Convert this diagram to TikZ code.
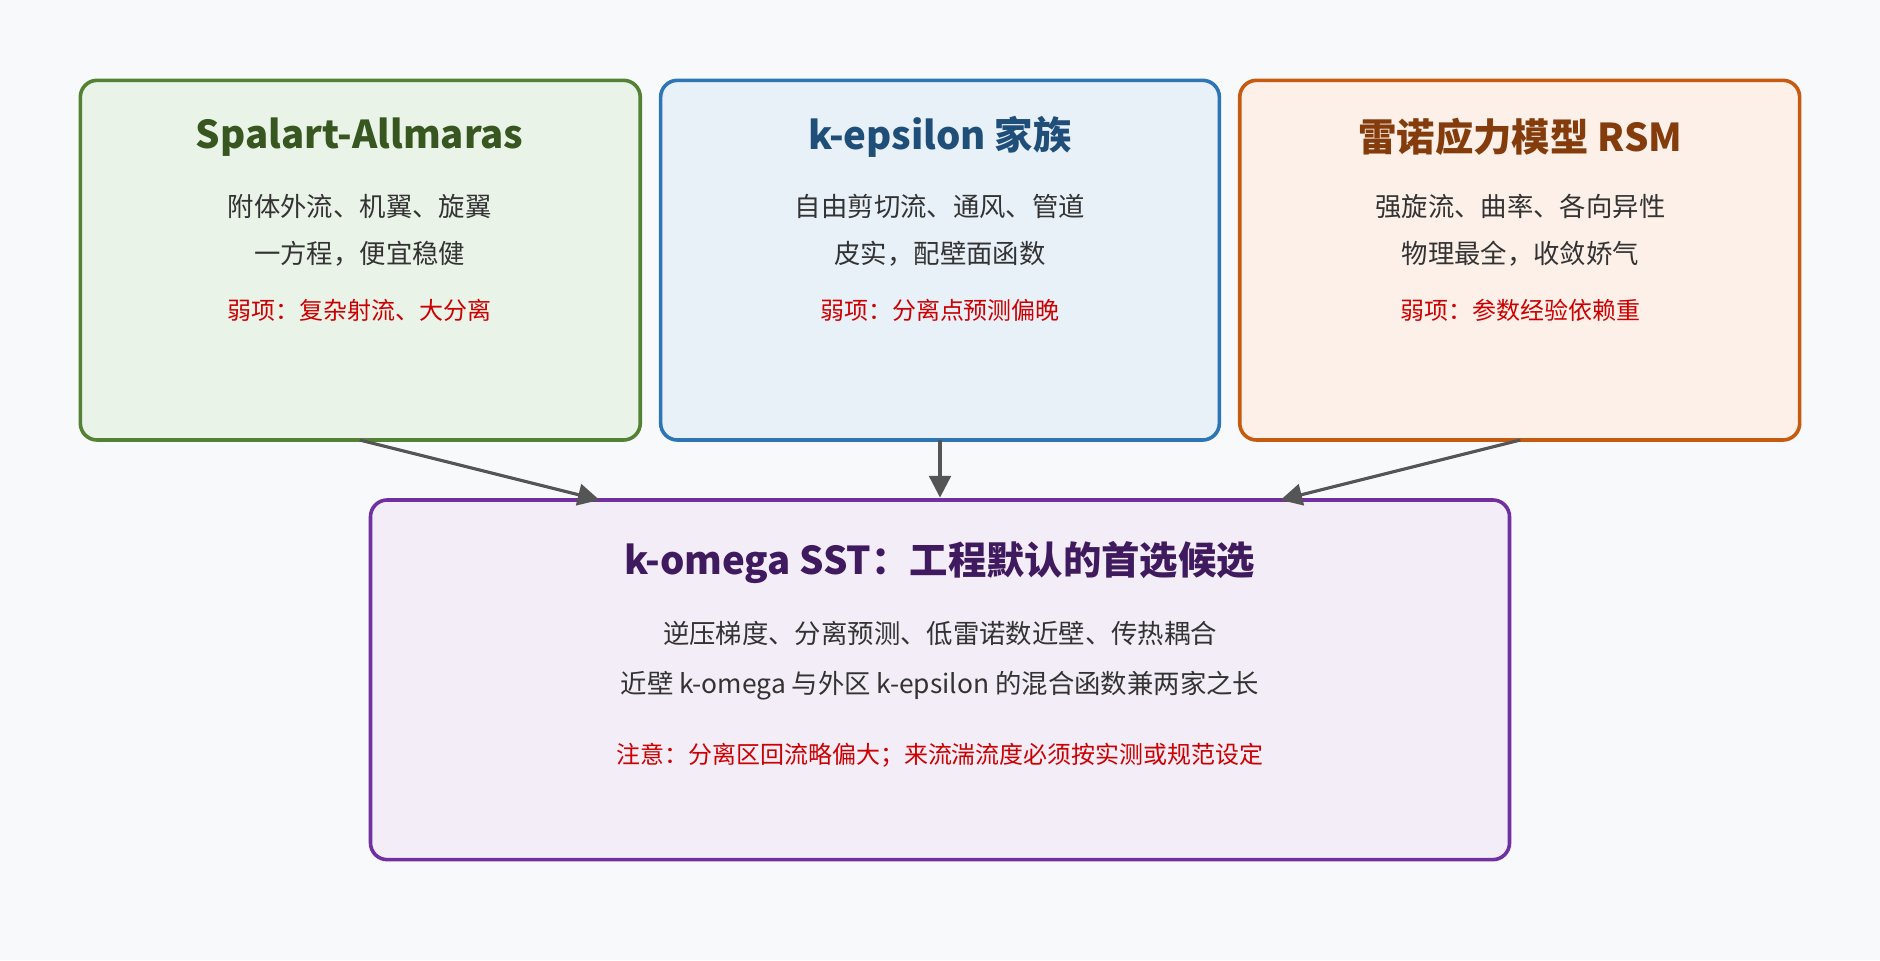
\documentclass[tikz,border=0pt]{standalone}
\usepackage{fontspec}
\setmainfont{Noto Sans CJK SC}
\usetikzlibrary{arrows.meta}
\definecolor{CBG}{HTML}{F8F9FA}
\definecolor{CGF}{HTML}{EAF3E8}
\definecolor{CGD}{HTML}{548235}
\definecolor{CGT}{HTML}{38561F}
\definecolor{CBF}{HTML}{E8F0F8}
\definecolor{CBD}{HTML}{2E75B6}
\definecolor{CBT}{HTML}{1F4E79}
\definecolor{COF}{HTML}{FCF0E8}
\definecolor{COD}{HTML}{C55A11}
\definecolor{COT}{HTML}{843C0C}
\definecolor{CPF}{HTML}{F3EDF7}
\definecolor{CPD}{HTML}{7030A0}
\definecolor{CPT}{HTML}{3F1A5E}
\definecolor{CRD}{HTML}{CC0000}
\definecolor{CTX}{HTML}{333333}
\definecolor{CAR}{HTML}{555555}
\begin{document}
\begin{tikzpicture}[x=0.5pt,y=-0.5pt,inner sep=0pt,
  box/.style={draw, line width=1.5pt, rounded corners=7pt},
  ttl/.style={font=\bfseries\fontsize{16}{19}\selectfont},
  txt/.style={text=CTX,font=\fontsize{11}{13}\selectfont},
  warn/.style={text=CRD,font=\fontsize{10}{12}\selectfont},
  arr/.style={-{Triangle[length=9pt,width=9pt]},draw=CAR,line width=1.3pt}]
\fill[CBG] (0,0) rectangle (1568,801);
\useasboundingbox (0,0) rectangle (1568,801);
% three model families
\draw[box,fill=CGF,draw=CGD] (67,67) rectangle (534,367);
\draw[box,fill=CBF,draw=CBD] (551,67) rectangle (1017,367);
\draw[box,fill=COF,draw=COD] (1034,67) rectangle (1501,367);
\node (n0) [ttl,text=CGT,at={(300,114)}] {Spalart-Allmaras};
\node (n0a) [txt,at={(300,172)}] {附体外流、机翼、旋翼};
\node (n0b) [txt,at={(300,212)}] {一方程，便宜稳健};
\node (n0c) [warn,at={(300,259)}] {弱项：复杂射流、大分离};
\node (n1) [ttl,text=CBT,at={(784,114)}] {k-epsilon 家族};
\node (n1a) [txt,at={(784,172)}] {自由剪切流、通风、管道};
\node (n1b) [txt,at={(784,212)}] {皮实，配壁面函数};
\node (n1c) [warn,at={(784,259)}] {弱项：分离点预测偏晚};
\node (n2) [ttl,text=COT,at={(1268,114)}] {雷诺应力模型 RSM};
\node (n2a) [txt,at={(1268,172)}] {强旋流、曲率、各向异性};
\node (n2b) [txt,at={(1268,212)}] {物理最全，收敛娇气};
\node (n2c) [warn,at={(1268,259)}] {弱项：参数经验依赖重};
% result
\draw[box,fill=CPF,draw=CPD] (309,417) rectangle (1259,717);
\node (n3) [ttl,text=CPT,at={(784,469)}] {k-omega SST：工程默认的首选候选};
\node (n3a) [txt,at={(784,528)}] {逆压梯度、分离预测、低雷诺数近壁、传热耦合};
\node (n3b) [txt,at={(784,572)}] {近壁 k-omega 与外区 k-epsilon 的混合函数兼两家之长};
\node (n3c) [warn,at={(784,630)}] {注意：分离区回流略偏大；来流湍流度必须按实测或规范设定};
\coordinate (s0) at (300,367); \coordinate (t0) at (500,417);
\coordinate (s1) at (784,367); \coordinate (t1) at (784,415);
\coordinate (s2) at (1268,367); \coordinate (t2) at (1068,417);
\path [arr] (s0)--(t0);
\path [arr] (s1)--(t1);
\path [arr] (s2)--(t2);
\end{tikzpicture}
\end{document}
